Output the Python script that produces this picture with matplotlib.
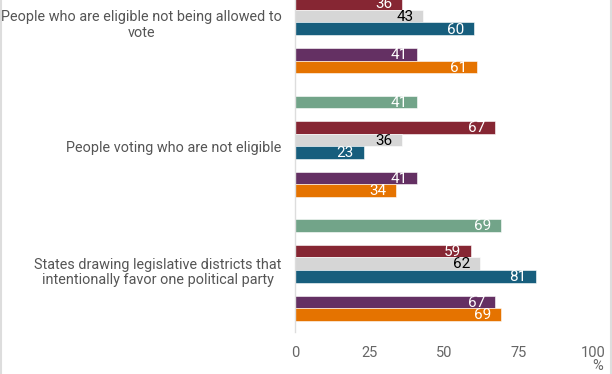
import matplotlib.pyplot as plt
import numpy as np

plt.rcParams['font.family'] = ['Roboto', 'DejaVu Sans']

# categories, top to bottom
categories = [
    "People who are eligible not being allowed to\nvote",
    "People voting who are not eligible",
    "States drawing legislative districts that\nintentionally favor one political party",
]

# series values (percent), one list per colour
green = [52, 41, 69]   # first one is cut off in the picture, rough guess
red = [36, 67, 59]
grey = [43, 36, 62]
blue = [60, 23, 81]
purple = [41, 41, 67]
orange = [61, 34, 69]

xticks = [0, 25, 50, 75, 100]

series = [
    (green, "#72a489", "white"),
    (red, "#862633", "white"),
    (grey, "#d6d6d6", "black"),
    (blue, "#175e7d", "white"),
    (purple, "#643063", "white"),
    (orange, "#e57300", "white"),
]
# slot offsets within one category (gap after green and after blue)
offsets = [-3.5, -1.5, -0.5, 0.5, 2.5, 3.5]
pitch = 9.75

fig = plt.figure(figsize=(6.12, 3.74), dpi=100)
ax = fig.add_axes([295 / 612, 42 / 374, (593 - 295) / 612, 332 / 374])

centers = np.arange(len(categories)) * pitch
for (vals, col, txtcol), off in zip(series, offsets):
    ys = centers + off
    ax.barh(ys, vals, height=1.0, color=col, edgecolor="white", linewidth=0.4)
    for y, v in zip(ys, vals):
        ax.annotate(str(v), (v, y), xytext=(-7, -0.5), textcoords="offset points",
                    ha="right", va="center", fontsize=11, color=txtcol)

ax.set_xlim(0, 100)
ax.set_ylim(2 * pitch + 4.87, -1.77)
ax.set_xticks(xticks)
ax.set_xticklabels([str(t) for t in xticks])
ax.set_yticks(centers)
ax.set_yticklabels(categories, multialignment="center", linespacing=1.15)
ax.tick_params(axis="x", length=0, pad=10, labelsize=10.5, labelcolor="#666666")
ax.tick_params(axis="y", length=0, pad=9.5, labelsize=10.4, labelcolor="#555555")

for s in ["top", "right", "bottom"]:
    ax.spines[s].set_visible(False)
ax.spines["left"].set_color("#dddddd")
ax.spines["left"].set_linewidth(1)

fig.text(603 / 612, 1 - 366 / 374, "%", ha="right", va="center",
         fontsize=10.5, color="#666666")

# light frame lines at the left and right edges
fig.add_artist(plt.Line2D([0.5 / 612, 0.5 / 612], [0, 1], color="#dddddd", lw=1.5))
fig.add_artist(plt.Line2D([611 / 612, 611 / 612], [0, 1], color="#dddddd", lw=1.5))

fig.savefig("out.png", dpi=100)
